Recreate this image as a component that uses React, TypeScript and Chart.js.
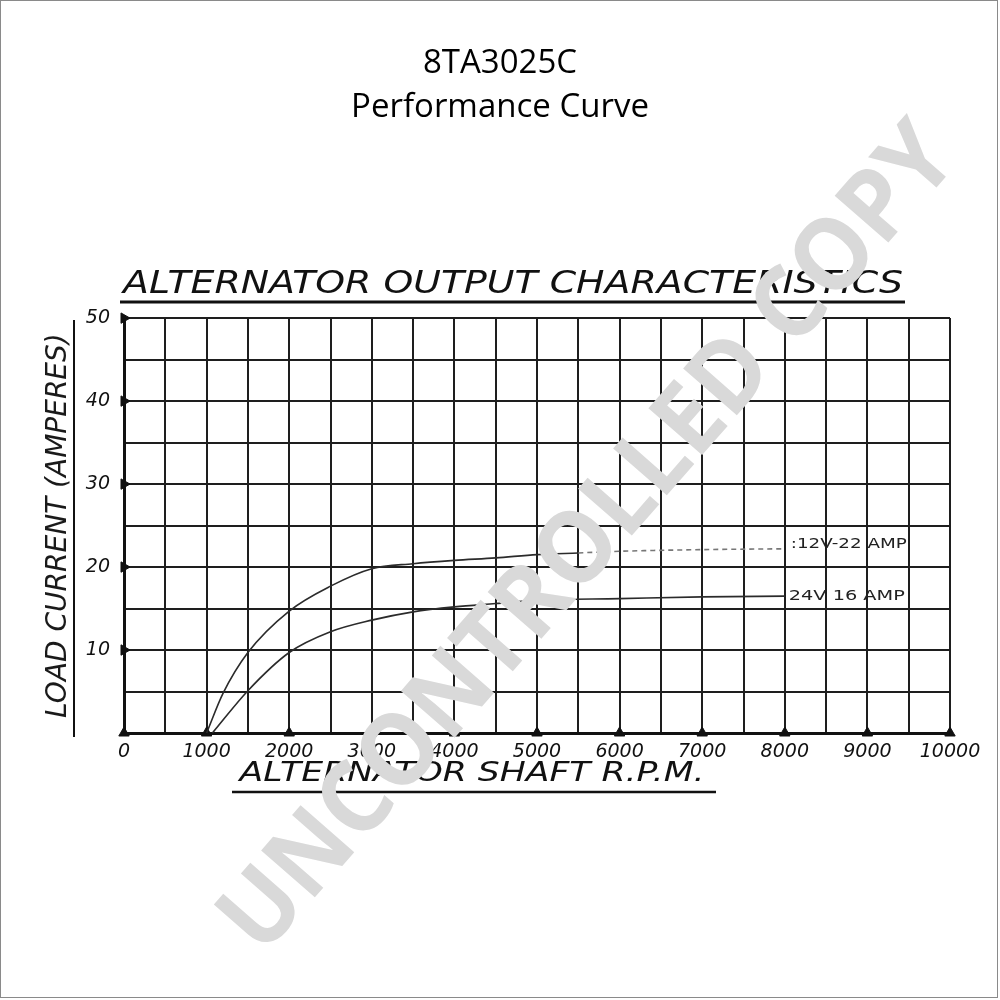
import React, { useEffect, useRef } from 'react';
import { Chart, registerables } from 'chart.js';

Chart.register(...registerables);

// ---- data ----
const titleLines = ['8TA3025C', 'Performance Curve'];
const chartHeading = 'ALTERNATOR OUTPUT CHARACTERISTICS';
const xAxisTitle = 'ALTERNATOR SHAFT R.P.M.';
const yAxisTitle = 'LOAD CURRENT (AMPERES)';
const watermarkText = 'UNCONTROLLED COPY';

const rpm12 = [1000, 1200, 1500, 2000, 2500, 3000, 3500, 4000, 4500, 5000, 5500, 6000, 7000, 8000];
const amp12 = [0, 4.8, 9.7, 14.7, 17.7, 19.8, 20.4, 20.8, 21.1, 21.5, 21.7, 21.9, 22.1, 22.2];
const label12 = ':12V-22 AMP';

const rpm24 = [1070, 1500, 2000, 2500, 3000, 3500, 4000, 4500, 5000, 6000, 7000, 8000];
const amp24 = [0, 5.1, 9.7, 12.2, 13.6, 14.6, 15.2, 15.6, 16.0, 16.2, 16.4, 16.5];
const label24 = '24V 16 AMP';

const xMarkTicks = [0, 1000, 2000, 3000, 4000, 5000, 6000, 7000, 8000, 9000, 10000];
const yMarkTicks = [10, 20, 30, 40, 50];

const HAND = "'DejaVu Sans'";

function fitText(ctx: CanvasRenderingContext2D, text: string, cx: number, cy: number, width: number, font: string, angle = 0, color = '#111') {
  ctx.save();
  ctx.font = font;
  const w = ctx.measureText(text).width;
  ctx.translate(cx, cy);
  ctx.rotate(angle);
  ctx.scale(width / w, 1);
  ctx.fillStyle = color;
  ctx.textAlign = 'center';
  ctx.textBaseline = 'middle';
  ctx.fillText(text, 0, 0);
  ctx.restore();
}

const decorPlugin = {
  id: 'decor',
  beforeDraw(chart: any) {
    const { ctx, width, height } = chart;
    ctx.save();
    ctx.fillStyle = '#fff';
    ctx.fillRect(0, 0, width, height);
    ctx.restore();
  },
  afterDraw(chart: any) {
    const { ctx, chartArea, scales } = chart;
    const xs = scales.x;
    const ys = scales.y;
    // heading above the grid
    fitText(ctx, chartHeading, 513, 285, 780, `italic 32px ${HAND}`);
    ctx.save();
    ctx.strokeStyle = '#111';
    ctx.lineWidth = 3;
    ctx.beginPath();
    ctx.moveTo(chartArea.left - 4, 302);
    ctx.lineTo(905, 302);
    ctx.stroke();
    ctx.restore();
    // x axis title and underline
    fitText(ctx, xAxisTitle, 472, 774, 465, `italic 26px ${HAND}`);
    ctx.save();
    ctx.strokeStyle = '#111';
    ctx.lineWidth = 2.5;
    ctx.beginPath();
    ctx.moveTo(232, 792);
    ctx.lineTo(716, 792);
    ctx.stroke();
    // y axis title underline
    ctx.lineWidth = 2;
    ctx.beginPath();
    ctx.moveTo(74, chartArea.top + 2);
    ctx.lineTo(74, chartArea.bottom + 4);
    ctx.stroke();
    ctx.restore();
    // series labels at the end of each curve
    const x12 = xs.getPixelForValue(rpm12[rpm12.length - 1]);
    const y12 = ys.getPixelForValue(amp12[amp12.length - 1]);
    fitText(ctx, label12, x12 + 64, y12 - 4, 116, `14px ${HAND}`, 0, '#222');
    const x24 = xs.getPixelForValue(rpm24[rpm24.length - 1]);
    const y24 = ys.getPixelForValue(amp24[amp24.length - 1]);
    fitText(ctx, label24, x24 + 62, y24, 116, `14px ${HAND}`, 0, '#222');
    // watermark
    fitText(ctx, watermarkText, 590, 540, 1060, `bold 100px 'Open Sans'`, -48.8 * Math.PI / 180, '#d9d9d9');
    // page frame
    ctx.save();
    ctx.strokeStyle = '#8a8a8a';
    ctx.lineWidth = 1;
    ctx.strokeRect(0.5, 0.5, 997, 997);
    ctx.restore();
  },
};

export default function App() {
  const ref = useRef<HTMLCanvasElement | null>(null);
  useEffect(() => {
    document.body.style.margin = '0';
    const canvas = ref.current;
    if (!canvas) return;
    const tickFont = { family: 'DejaVu Sans', style: 'italic' as const, size: 19 };
    const chart = new Chart(canvas, {
      type: 'scatter',
      data: {
        datasets: [
          {
            label: '12V-22 AMP',
            data: rpm12.map((x, i) => ({ x, y: amp12[i] })),
            showLine: true,
            borderColor: '#2b2b2b',
            borderWidth: 1.6,
            pointRadius: 0,
            cubicInterpolationMode: 'monotone',
            segment: {
              borderDash: (c: any) => (c.p0.parsed.x >= 5500 ? [5, 4] : undefined),
              borderColor: (c: any) => (c.p0.parsed.x >= 5500 ? '#777' : undefined),
            },
          } as any,
          {
            label: '24V 16 AMP',
            data: rpm24.map((x, i) => ({ x, y: amp24[i] })),
            showLine: true,
            borderColor: '#2b2b2b',
            borderWidth: 1.6,
            pointRadius: 0,
            cubicInterpolationMode: 'monotone',
          } as any,
          {
            label: 'x marks',
            data: xMarkTicks.map((x) => ({ x, y: 0 })),
            showLine: false,
            pointStyle: 'triangle',
            pointRadius: 6,
            backgroundColor: '#111',
            borderColor: '#111',
            clip: false,
          } as any,
          {
            label: 'y marks',
            data: yMarkTicks.map((y) => ({ x: 0, y })),
            showLine: false,
            pointStyle: 'triangle',
            pointRotation: 90,
            pointRadius: 6,
            backgroundColor: '#111',
            borderColor: '#111',
            clip: false,
          } as any,
        ],
      },
      options: {
        responsive: false,
        animation: false,
        devicePixelRatio: 1,
        layout: { padding: { top: 0, left: 50, right: 50, bottom: 0 } },
        plugins: {
          legend: { display: false },
          tooltip: { enabled: false },
          title: {
            display: true,
            text: titleLines,
            color: '#000',
            font: { family: 'Open Sans', size: 33, weight: 'normal', lineHeight: 1.32 },
            padding: { top: 42, bottom: 189 },
          },
        },
        scales: {
          x: {
            type: 'linear',
            min: 0,
            max: 10000,
            afterFit: (s: any) => { s.height = 267; },
            ticks: {
              stepSize: 500,
              autoSkip: false,
              maxRotation: 0,
              padding: 8,
              color: '#111',
              font: tickFont,
              callback: (v: any) => (Number(v) % 1000 === 0 ? String(v) : ''),
            },
            grid: { color: '#1e1e1e', lineWidth: 2, drawTicks: false },
            border: { display: true, color: '#111', width: 3 },
          },
          y: {
            type: 'linear',
            min: 0,
            max: 50,
            afterFit: (s: any) => { s.width = 74; },
            title: {
              display: true,
              text: yAxisTitle,
              color: '#1a1a1a',
              font: { family: 'DejaVu Sans', size: 28, style: 'italic', lineHeight: 0.6 },
              padding: { top: 0, bottom: 0 },
            },
            ticks: {
              stepSize: 5,
              autoSkip: false,
              padding: 14,
              color: '#111',
              font: tickFont,
              callback: (v: any) => (Number(v) % 10 === 0 && Number(v) !== 0 ? String(v) : ''),
            },
            grid: { color: '#1e1e1e', lineWidth: 2, drawTicks: false },
            border: { display: true, color: '#111', width: 3 },
          },
        },
      },
      plugins: [decorPlugin],
    });
    return () => chart.destroy();
  }, []);
  return (
    <div style={{ width: 1000, height: 1000 }}>
      <canvas ref={ref} width={1000} height={1000} style={{ display: 'block' }} />
    </div>
  );
}
